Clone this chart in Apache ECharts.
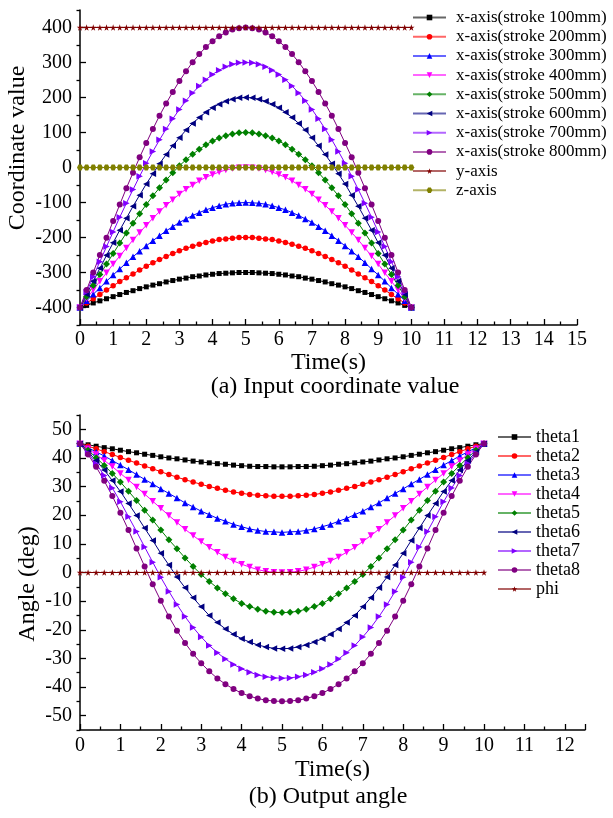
<!DOCTYPE html>
<html>
<head>
<meta charset="utf-8">
<script src="https://cdn.jsdelivr.net/npm/echarts@6/dist/echarts.min.js"></script>
<style>html,body{margin:0;padding:0;background:#fff;}#c{width:613px;height:818px;}</style>
</head>
<body>
<div id="c"></div>
<script>
const time = [0,0.2,0.4,0.6,0.8,1,1.2,1.4,1.6,1.8,2,2.2,2.4,2.6,2.8,3,3.2,3.4,3.6,3.8,4,4.2,4.4,4.6,4.8,5,5.2,5.4,5.6,5.8,6,6.2,6.4,6.6,6.8,7,7.2,7.4,7.6,7.8,8,8.2,8.4,8.6,8.8,9,9.2,9.4,9.6,9.8,10];

const topNames = ['x-axis(stroke 100mm)','x-axis(stroke 200mm)','x-axis(stroke 300mm)','x-axis(stroke 400mm)','x-axis(stroke 500mm)','x-axis(stroke 600mm)','x-axis(stroke 700mm)','x-axis(stroke 800mm)','y-axis','z-axis'];
const x100 = [-400,-394,-387,-381,-375,-369,-363,-357,-352,-346,-341,-336,-332,-327,-323,-319,-316,-312,-310,-307,-305,-303,-302,-301,-300,-300,-300,-301,-302,-303,-305,-307,-310,-312,-316,-319,-323,-327,-332,-336,-341,-346,-352,-357,-363,-369,-375,-381,-387,-394,-400];
const x200 = [-400,-387,-375,-363,-350,-338,-326,-315,-304,-293,-282,-272,-263,-254,-246,-238,-231,-225,-219,-214,-210,-206,-204,-202,-200,-200,-200,-202,-204,-206,-210,-214,-219,-225,-231,-238,-246,-254,-263,-272,-282,-293,-304,-315,-326,-338,-350,-363,-375,-387,-400];
const x300 = [-400,-381,-362,-344,-325,-307,-290,-272,-255,-239,-224,-209,-195,-181,-169,-157,-147,-137,-129,-121,-115,-109,-105,-102,-101,-100,-101,-102,-105,-109,-115,-121,-129,-137,-147,-157,-169,-181,-195,-209,-224,-239,-255,-272,-290,-307,-325,-344,-362,-381,-400];
const x400 = [-400,-375,-350,-325,-301,-276,-253,-230,-207,-186,-165,-145,-126,-108,-92,-76,-62,-50,-38,-28,-20,-13,-7,-3,-1,0,-1,-3,-7,-13,-20,-28,-38,-50,-62,-76,-92,-108,-126,-145,-165,-186,-207,-230,-253,-276,-301,-325,-350,-375,-400];
const x500 = [-400,-369,-337,-306,-276,-246,-216,-187,-159,-132,-106,-81,-58,-36,-15,5,22,38,52,65,76,84,91,96,99,100,99,96,91,84,76,65,52,38,22,5,-15,-36,-58,-81,-106,-132,-159,-187,-216,-246,-276,-306,-337,-369,-400];
const x600 = [-400,-362,-325,-288,-251,-215,-179,-145,-111,-79,-47,-18,11,37,62,85,107,126,143,158,171,181,189,195,199,200,199,195,189,181,171,158,143,126,107,85,62,37,11,-18,-47,-79,-111,-145,-179,-215,-251,-288,-325,-362,-400];
const x700 = [-400,-356,-312,-269,-226,-184,-142,-102,-63,-25,12,46,79,110,139,166,191,213,233,251,266,278,288,295,299,300,299,295,288,278,266,251,233,213,191,166,139,110,79,46,12,-25,-63,-102,-142,-184,-226,-269,-312,-356,-400];
const x800 = [-400,-350,-300,-250,-201,-153,-106,-59,-15,29,70,110,148,183,216,247,275,301,324,344,361,375,386,394,398,400,398,394,386,375,361,344,324,301,275,247,216,183,148,110,70,29,-15,-59,-106,-153,-201,-250,-300,-350,-400];
const yAxisVals = [400,400,400,400,400,400,400,400,400,400,400,400,400,400,400,400,400,400,400,400,400,400,400,400,400,400,400,400,400,400,400,400,400,400,400,400,400,400,400,400,400,400,400,400,400,400,400,400,400,400,400];
const zAxisVals = [0,0,0,0,0,0,0,0,0,0,0,0,0,0,0,0,0,0,0,0,0,0,0,0,0,0,0,0,0,0,0,0,0,0,0,0,0,0,0,0,0,0,0,0,0,0,0,0,0,0,0];

const botNames = ['theta1','theta2','theta3','theta4','theta5','theta6','theta7','theta8','phi'];
const th1 = [45,44.6,44.1,43.6,43.2,42.7,42.2,41.8,41.3,40.9,40.4,40.0,39.7,39.3,38.9,38.6,38.3,38.0,37.8,37.5,37.3,37.1,37.0,37.0,36.9,36.9,36.9,37.0,37.0,37.1,37.3,37.5,37.8,38.0,38.3,38.6,38.9,39.3,39.7,40.0,40.4,40.9,41.3,41.8,42.2,42.7,43.2,43.6,44.1,44.6,45];
const th2 = [45,44.1,43.2,42.2,41.2,40.2,39.2,38.2,37.2,36.2,35.2,34.2,33.3,32.4,31.6,30.8,30.0,29.4,28.7,28.1,27.7,27.2,27.0,26.8,26.6,26.6,26.6,26.8,27.0,27.2,27.7,28.1,28.7,29.4,30.0,30.8,31.6,32.4,33.3,34.2,35.2,36.2,37.2,38.2,39.2,40.2,41.2,42.2,43.2,44.1,45];
const th3 = [45,43.6,42.1,40.7,39.1,37.5,35.9,34.2,32.5,30.9,29.2,27.6,26.0,24.3,22.9,21.4,20.2,18.9,17.9,16.8,16.0,15.2,14.7,14.3,14.2,14.0,14.2,14.3,14.7,15.2,16.0,16.8,17.9,18.9,20.2,21.4,22.9,24.3,26.0,27.6,29.2,30.9,32.5,34.2,35.9,37.5,39.1,40.7,42.1,43.6,45];
const th4 = [45,43.2,41.2,39.1,37.0,34.6,32.3,29.9,27.4,24.9,22.4,19.9,17.5,15.1,12.9,10.8,8.8,7.1,5.4,4.0,2.9,1.9,1.0,0.4,0.1,0,0.1,0.4,1.0,1.9,2.9,4.0,5.4,7.1,8.8,10.8,12.9,15.1,17.5,19.9,22.4,24.9,27.4,29.9,32.3,34.6,37.0,39.1,41.2,43.2,45];
const th5 = [45,42.7,40.1,37.4,34.6,31.6,28.4,25.1,21.7,18.3,14.8,11.4,8.3,5.1,2.1,-0.7,-3.1,-5.4,-7.4,-9.2,-10.8,-11.9,-12.8,-13.5,-13.9,-14.0,-13.9,-13.5,-12.8,-11.9,-10.8,-9.2,-7.4,-5.4,-3.1,-0.7,2.1,5.1,8.3,11.4,14.8,18.3,21.7,25.1,28.4,31.6,34.6,37.4,40.1,42.7,45];
const th6 = [45,42.1,39.1,35.8,32.1,28.3,24.1,19.9,15.5,11.2,6.7,2.6,-1.6,-5.3,-8.8,-12.0,-15.0,-17.5,-19.7,-21.6,-23.1,-24.3,-25.3,-26.0,-26.5,-26.6,-26.5,-26.0,-25.3,-24.3,-23.1,-21.6,-19.7,-17.5,-15.0,-12.0,-8.8,-5.3,-1.6,2.6,6.7,11.2,15.5,19.9,24.1,28.3,32.1,35.8,39.1,42.1,45];
const th7 = [45,41.7,38.0,33.9,29.5,24.7,19.5,14.3,8.9,3.6,-1.7,-6.6,-11.2,-15.4,-19.2,-22.5,-25.5,-28.0,-30.2,-32.1,-33.6,-34.8,-35.8,-36.4,-36.8,-36.9,-36.8,-36.4,-35.8,-34.8,-33.6,-32.1,-30.2,-28.0,-25.5,-22.5,-19.2,-15.4,-11.2,-6.6,-1.7,3.6,8.9,14.3,19.5,24.7,29.5,33.9,38.0,41.7,45];
const th8 = [45,41.2,36.9,32.0,26.7,20.9,14.8,8.4,2.1,-4.1,-9.9,-15.4,-20.3,-24.6,-28.4,-31.7,-34.5,-37.0,-39.0,-40.7,-42.1,-43.2,-44.0,-44.6,-44.9,-45,-44.9,-44.6,-44.0,-43.2,-42.1,-40.7,-39.0,-37.0,-34.5,-31.7,-28.4,-24.6,-20.3,-15.4,-9.9,-4.1,2.1,8.4,14.8,20.9,26.7,32.0,36.9,41.2,45];
const phi = [0,0,0,0,0,0,0,0,0,0,0,0,0,0,0,0,0,0,0,0,0,0,0,0,0,0,0,0,0,0,0,0,0,0,0,0,0,0,0,0,0,0,0,0,0,0,0,0,0,0,0];

const topTicks = [-400,-300,-200,-100,0,100,200,300,400];
const topMinor = [-450,-350,-250,-150,-50,50,150,250,350,450];
const botTicks = [-50,-40,-30,-20,-10,0,10,20,30,40,50];
const botMinor = [-55,-45,-35,-25,-15,-5,5,15,25,35,45,55];

const SERIF = '"Liberation Serif","Times New Roman",serif';
const STAR = 'path://M50,0 L61,35 L98,35 L68,57 L79,91 L50,70 L21,91 L32,57 L2,35 L39,35 Z';
const HEX = 'path://M25,0 L75,0 L100,43 L75,86 L25,86 L0,43 Z';

const styles = [
  {c:'#000000', s:'rect', r:0, z:5},
  {c:'#FF0000', s:'circle', r:0, z:5.5},
  {c:'#0000FF', s:'triangle', r:0, z:6.5},
  {c:'#FF00FF', s:'triangle', r:180, z:6.5},
  {c:'#008000', s:'diamond', r:0, z:7},
  {c:'#000080', s:'triangle', r:90, z:6.5},
  {c:'#8000FF', s:'triangle', r:-90, z:6.5},
  {c:'#800080', s:'circle', r:0, z:6}
];

function mk(name, vals, st, xi, yi) {
  return {
    name, type:'line', xAxisIndex:xi, yAxisIndex:yi,
    data: time.map((t,i)=>[t, vals[i]]),
    symbol: st.s, symbolRotate: st.r, symbolSize: st.z,
    showSymbol:true, showAllSymbol:true,
    lineStyle:{color:st.c, width:1},
    itemStyle:{color:st.c},
    emphasis:{disabled:true}
  };
}

const topVals = [x100,x200,x300,x400,x500,x600,x700,x800];
const botVals = [th1,th2,th3,th4,th5,th6,th7,th8];
const series = [];
topVals.forEach((v,i)=>series.push(mk(topNames[i], v, styles[i], 0, 0)));
series.push(mk(topNames[8], yAxisVals, {c:'#800000', s:STAR, r:0, z:6.5}, 0, 0));
series.push(mk(topNames[9], zAxisVals, {c:'#808000', s:HEX, r:0, z:6}, 0, 0));
botVals.forEach((v,i)=>series.push(mk(botNames[i], v, styles[i], 1, 2)));
series.push(mk(botNames[8], phi, {c:'#800000', s:STAR, r:0, z:6.5}, 1, 2));

const axisLine = {show:true, onZero:false, lineStyle:{color:'#000', width:1.5}};
const lbl = {color:'#000', fontFamily:SERIF, fontSize:20};
const nameStyle = {color:'#000', fontFamily:SERIF, fontSize:24};

function xAx(gi, max, showMax, margin, gap) {
  return {
    type:'value', gridIndex:gi, min:0, max:max, interval:1,
    axisLine, splitLine:{show:false},
    axisTick:{show:true, inside:true, length:6, lineStyle:{color:'#000', width:1.3}},
    minorTick:{show:true, splitNumber:2, length:3.5, lineStyle:{color:'#000', width:1.3}},
    axisLabel:{...lbl, margin:margin, showMaxLabel:showMax, showMinLabel:true},
    name:'Time(s)', nameLocation:'middle', nameGap:gap, nameTextStyle:nameStyle
  };
}
function yMain(gi, min, max, ticks) {
  return {
    type:'value', gridIndex:gi, min, max,
    axisLine, splitLine:{show:false},
    axisTick:{show:true, inside:true, length:6, customValues:ticks, lineStyle:{color:'#000', width:1.3}},
    axisLabel:{...lbl, margin:8, customValues:ticks}
  };
}
function yMinor(gi, min, max, ticks) {
  return {
    type:'value', gridIndex:gi, min, max,
    axisLine:{show:false}, splitLine:{show:false},
    axisTick:{show:true, inside:true, length:3.5, customValues:ticks, lineStyle:{color:'#000', width:1.3}},
    axisLabel:{show:false}
  };
}

function legend(names, left, top, textPad, gap, fs) {
  return {
    orient:'vertical', left, top, data:names, padding:0,
    itemWidth:33, itemHeight:7, itemGap:gap,
    textStyle:{color:'#000', fontFamily:SERIF, fontSize:fs, lineHeight:fs, padding:[0,0,0,textPad]},
    lineStyle:{opacity:0.6},
    selectedMode:false
  };
}

function vText(text, x, y) {
  return {type:'text', x, y, rotation:Math.PI/2,
    style:{text, fill:'#000', font:'24px '+SERIF, textAlign:'center', textVerticalAlign:'middle'}};
}

const chart = echarts.init(document.getElementById('c'), null, {renderer:'canvas'});
chart.setOption({
  animation:false,
  backgroundColor:'#fff',
  grid:[
    {left:80, top:10, width:497, height:315, containLabel:false, outerBoundsMode:'none'},
    {left:80, top:415, width:505, height:315, containLabel:false, outerBoundsMode:'none'}
  ],
  xAxis:[xAx(0,15,true,5,23), xAx(1,12.5,false,6,28)],
  yAxis:[
    yMain(0,-450,450,topTicks),
    yMinor(0,-450,450,topMinor),
    yMain(1,-55,55,botTicks),
    yMinor(1,-55,55,botMinor)
  ],
  legend:[
    legend(topNames, 412, 9, 5, 2.2, 17),
    legend(botNames, 497, 428, 0, 1, 18)
  ],
  graphic:[
    vText('Coordinate value', 18, 148),
    vText('Angle (deg)', 28, 584),
    {type:'text', x:335, y:387, style:{text:'(a) Input coordinate value', fill:'#000', font:'24px '+SERIF, textAlign:'center', textVerticalAlign:'middle'}},
    {type:'text', x:328, y:797, style:{text:'(b) Output angle', fill:'#000', font:'24px '+SERIF, textAlign:'center', textVerticalAlign:'middle'}}
  ],
  series
});
</script>
</body>
</html>
